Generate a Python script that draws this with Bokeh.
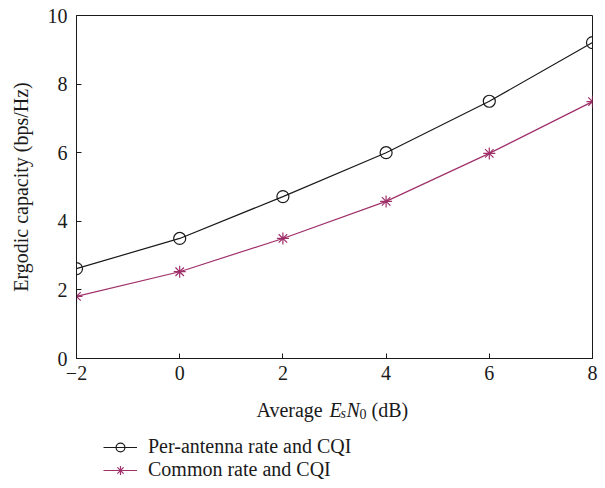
from bokeh.plotting import figure
from bokeh.layouts import column
from bokeh.models import FixedTicker, Legend, LegendItem, Label
from bokeh.embed import file_html
from bokeh.resources import INLINE

# ---- data ----
snr_db = [-2, 0, 2, 4, 6, 8]
per_antenna = [2.62, 3.50, 4.72, 6.00, 7.50, 9.21]
common_rate = [1.81, 2.53, 3.50, 4.58, 5.98, 7.49]
x_ticks = [-2, 0, 2, 4, 6, 8]
y_ticks = [0, 2, 4, 6, 8, 10]
series_names = ["Per-antenna rate and CQI", "Common rate and CQI"]

FONT = "Liberation Serif"
FS = "20px"
BLACK = "#1a1a1a"
RED = "#A0306A"

p = figure(width=605, height=398, output_backend="svg", toolbar_location=None,
           x_range=(-2, 8), y_range=(0, 10),
           min_border_left=76, min_border_right=13, min_border_top=15, min_border_bottom=40)
p.background_fill_color = "white"
p.border_fill_color = "white"
p.xgrid.visible = False
p.ygrid.visible = False
p.outline_line_color = BLACK
p.outline_line_width = 1

for ax in (p.xaxis[0], p.yaxis[0]):
    ax.axis_line_color = BLACK
    ax.major_tick_line_color = BLACK
    ax.major_tick_in = 5
    ax.major_tick_out = 0
    ax.minor_tick_line_color = None
    ax.major_label_text_font = FONT
    ax.major_label_text_font_size = FS
    ax.major_label_text_color = BLACK

p.xaxis.ticker = FixedTicker(ticks=x_ticks)
p.yaxis.ticker = FixedTicker(ticks=y_ticks)
p.xaxis.major_label_overrides = {t: (str(t).replace("-", "\u2212")) for t in x_ticks}
p.xaxis.major_label_standoff = 7
p.yaxis.major_label_standoff = 9

p.yaxis.axis_label = "Ergodic capacity (bps/Hz)"
p.yaxis.axis_label_text_font = FONT
p.yaxis.axis_label_text_font_size = FS
p.yaxis.axis_label_text_font_style = "normal"
p.yaxis.axis_label_text_color = BLACK
p.yaxis.axis_label_standoff = 13

line_style_1 = dict(line_color=BLACK, line_width=1.2)
mark_style_1 = dict(marker="circle", size=12, line_color=BLACK, fill_color=None, line_width=1.2)
line_style_2 = dict(line_color=RED, line_width=1.2)
mark_style_2 = dict(marker="asterisk", size=12, line_color=RED, line_width=1.2)

p.line(snr_db, per_antenna, **line_style_1)
p.scatter(snr_db, per_antenna, **mark_style_1)
p.line(snr_db, common_rate, **line_style_2)
p.scatter(snr_db, common_rate, **mark_style_2)

# ---- lower panel: x-axis title and legend ----
H2 = 90
p2 = figure(width=605, height=H2, output_backend="svg", toolbar_location=None,
            x_range=(0, 516), y_range=(0, H2),
            min_border_left=76, min_border_right=13, min_border_top=0, min_border_bottom=0)
p2.axis.visible = False
p2.xgrid.visible = False
p2.ygrid.visible = False
p2.outline_line_color = None
p2.background_fill_color = "white"
p2.border_fill_color = "white"

# legend proxies (same styles as the data series; NaN so nothing is drawn in the panel)
nan = [float("nan")]
g1 = p2.line(nan, nan, **line_style_1)
m1 = p2.scatter(nan, nan, **mark_style_1)
g2 = p2.line(nan, nan, **line_style_2)
m2 = p2.scatter(nan, nan, **mark_style_2)

legend = Legend(items=[LegendItem(label=series_names[0], renderers=[g1, m1]),
                       LegendItem(label=series_names[1], renderers=[g2, m2])],
                location=(27, 7), orientation="vertical",
                padding=0, margin=0, spacing=0,
                glyph_width=34, glyph_height=22, label_height=22, label_standoff=11,
                label_text_font=FONT, label_text_font_size=FS, label_text_color=BLACK,
                border_line_color=None, background_fill_alpha=0)
p2.add_layout(legend, "center")

def lab(text, x, y, size=FS, style="normal"):
    p2.add_layout(Label(x=x, y=y, x_units="screen", y_units="screen", text=text,
                        text_font=FONT, text_font_size=size, text_font_style=style,
                        text_color=BLACK, text_baseline="alphabetic", text_align="left"))

base = 79
lab("Average", 180, base)
lab("E", 253, base, style="italic")
lab("s", 264, base - 4, size="14px", style="italic")
lab("N", 270, base, style="italic")
lab("0", 283, base - 4, size="14px")
lab("(dB)", 295, base)

layout = column(p, p2, spacing=0)
open("out.html", "w").write(file_html(layout, INLINE))
